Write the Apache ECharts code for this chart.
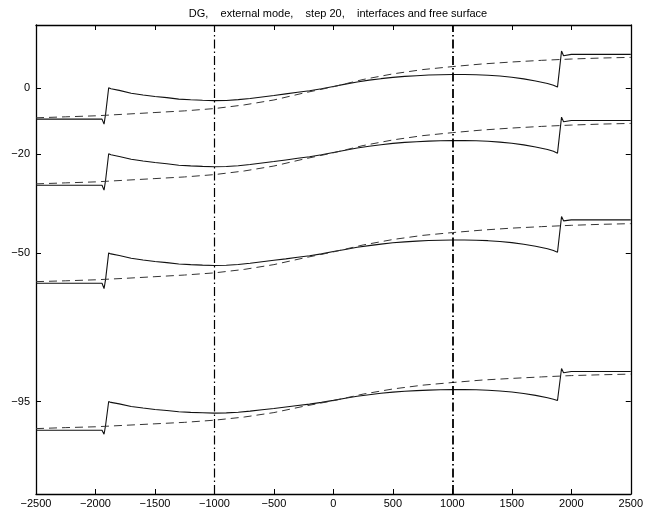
<!DOCTYPE html>
<html>
<head>
<meta charset="utf-8">
<script src="https://cdn.jsdelivr.net/npm/echarts@6/dist/echarts.min.js"></script>
<style>
  html, body { margin: 0; padding: 0; background: #fff; }
  #chart { width: 646px; height: 516px; }
</style>
</head>
<body>
<div id="chart"></div>
<script>
// x 网格（实线）
var xsSolid = [-2500, -2000, -1945, -1928, -1915, -1889, -1880, -1870, -1800, -1700,
  -1600, -1500, -1400, -1300, -1200, -1100, -1000, -900, -800, -700,
  -600, -500, -400, -300, -200, -100, 0, 100, 200, 300,
  400, 500, 600, 700, 800, 900, 1000, 1100, 1200, 1300,
  1400, 1500, 1600, 1700, 1800, 1850, 1884, 1918, 1935, 1950,
  2000, 2500];

// 自由面和各界面（实线）
var surf0 = [-9.5, -9.5, -9.5, -11.0, -8.0, 0, -0.4, -0.3, -0.8, -1.65,
  -2.2, -2.65, -3.0, -3.45, -3.65, -3.8, -3.9, -3.85, -3.6, -3.25,
  -2.8, -2.35, -1.85, -1.35, -0.9, -0.3, 0.4, 1.1, 1.75, 2.3,
  2.75, 3.15, 3.45, 3.65, 3.85, 3.95, 4.0, 4.0, 3.95, 3.8,
  3.55, 3.2, 2.7, 2.05, 1.3, 0.75, 0.2, 11.1, 9.7, 10.1,
  10.1, 10.1];
var iface20 = [-29.5, -29.5, -29.5, -31.0, -28.0, -20.0, -20.4, -20.3, -20.8, -21.65,
  -22.2, -22.65, -23.0, -23.45, -23.65, -23.8, -23.9, -23.85, -23.6, -23.25,
  -22.8, -22.35, -21.85, -21.35, -20.9, -20.3, -19.6, -18.9, -18.25, -17.7,
  -17.25, -16.85, -16.55, -16.35, -16.15, -16.05, -16.0, -16.0, -16.05, -16.2,
  -16.45, -16.8, -17.3, -17.95, -18.7, -19.25, -19.8, -8.9, -10.3, -9.9,
  -9.9, -9.9];
var iface50 = [-59.2, -59.2, -59.2, -60.8, -58.0, -50.0, -50.4, -50.3, -50.8, -51.6,
  -52.15, -52.6, -52.95, -53.35, -53.55, -53.7, -53.8, -53.75, -53.5, -53.15,
  -52.7, -52.25, -51.8, -51.3, -50.85, -50.3, -49.6, -48.95, -48.3, -47.8,
  -47.35, -46.95, -46.65, -46.45, -46.25, -46.15, -46.1, -46.1, -46.15, -46.3,
  -46.55, -46.9, -47.4, -48.0, -48.75, -49.3, -49.8, -39.0, -40.3, -40.0,
  -40.0, -40.0];
var iface95 = [-103.7, -103.7, -103.7, -104.9, -102.2, -95.0, -95.36, -95.27, -95.72, -96.5,
  -96.98, -97.4, -97.7, -98.1, -98.3, -98.4, -98.5, -98.45, -98.25, -97.9,
  -97.5, -97.1, -96.65, -96.2, -95.8, -95.25, -94.65, -94.0, -93.4, -92.95,
  -92.5, -92.15, -91.9, -91.7, -91.55, -91.45, -91.4, -91.4, -91.45, -91.6,
  -91.8, -92.1, -92.55, -93.15, -93.85, -94.3, -94.7, -85.0, -86.3, -85.9,
  -85.9, -85.9];

// 虚线
var xsDash = [-2500, -2250, -2000, -1750, -1500, -1250, -1000, -750, -500, -250,
  0, 250, 500, 750, 1000, 1250, 1500, 1750, 2000, 2250, 2500];
var dash0 = [-9.1, -8.8, -8.5, -8.0, -7.5, -7.0, -6.3, -5.2, -3.7, -1.6,
  0.3, 2.5, 4.2, 5.5, 6.4, 7.2, 7.8, 8.3, 8.7, 9.0, 9.2];
var dash20 = [-29.1, -28.8, -28.5, -28.0, -27.5, -27.0, -26.3, -25.2, -23.7, -21.6,
  -19.7, -17.5, -15.8, -14.5, -13.6, -12.8, -12.2, -11.7, -11.3, -11.0, -10.8];
var dash50 = [-58.7, -58.45, -58.15, -57.7, -57.2, -56.7, -56.05, -55.0, -53.55, -51.55,
  -49.7, -47.6, -45.95, -44.7, -43.85, -43.1, -42.5, -42.05, -41.65, -41.35, -41.15];
var dash95 = [-103.2, -102.9, -102.65, -102.2, -101.75, -101.3, -100.65, -99.7, -98.35, -96.45,
  -94.75, -92.75, -91.2, -90.05, -89.25, -88.5, -88.0, -87.55, -87.15, -86.9, -86.7];

var yTicks = [0, -20, -50, -95];
var vLines = [-1000, 1000];

function pairs(xs, ys) {
  return xs.map(function (x, i) { return [x, ys[i]]; });
}
function minus(v) {
  return String(v).replace('-', '\u2212');
}

var chart = echarts.init(document.getElementById('chart'));
var font = 'Liberation Sans, Arial, sans-serif';
var axisLine = { show: true, onZero: false, lineStyle: { color: '#000', width: 1.3 } };
var tick = { inside: true, length: 5, lineStyle: { color: '#000' } };

var series = [];
[surf0, iface20, iface50, iface95].forEach(function (ys) {
  series.push({
    type: 'line', data: pairs(xsSolid, ys), showSymbol: false,
    lineStyle: { color: '#111', width: 1.1 }
  });
});
[dash0, dash20, dash50, dash95].forEach(function (ys) {
  series.push({
    type: 'line', data: pairs(xsDash, ys), showSymbol: false,
    lineStyle: { color: '#333', width: 1, type: [8, 5] }
  });
});
// 竖直点划线
series.push({
  type: 'line', data: [], silent: true,
  markLine: {
    symbol: 'none', silent: true, label: { show: false },
    data: vLines.map(function (v, i) {
      return { xAxis: v, lineStyle: { color: '#000', width: i ? 1.8 : 1.2, type: [9, 3, 1.5, 3] } };
    })
  }
});

var option = {
  animation: false,
  title: {
    text: 'DG,    external mode,    step 20,    interfaces and free surface',
    left: 333, top: 3, textAlign: 'center',
    textStyle: { fontFamily: font, fontSize: 11, fontWeight: 'normal', color: '#000' }
  },
  grid: { left: 36, right: 15, top: 25, bottom: 22 },
  xAxis: [{
    type: 'value', min: -2500, max: 2500, interval: 500, position: 'bottom',
    axisLine: axisLine, axisTick: tick,
    axisLabel: { color: '#000', fontFamily: font, fontSize: 11, margin: 4, formatter: minus },
    splitLine: { show: false }
  }, {
    type: 'value', min: -2500, max: 2500, interval: 500, position: 'top',
    axisLine: axisLine, axisTick: tick,
    axisLabel: { show: false },
    splitLine: { show: false }
  }],
  yAxis: [{
    type: 'value', min: -123, max: 19, position: 'left',
    axisLine: axisLine,
    axisTick: { inside: true, length: 5, customValues: yTicks, lineStyle: { color: '#000' } },
    axisLabel: { color: '#000', fontFamily: font, fontSize: 11, margin: 6, customValues: yTicks, formatter: minus },
    splitLine: { show: false }
  }, {
    type: 'value', min: -123, max: 19, position: 'right',
    axisLine: axisLine,
    axisTick: { inside: true, length: 5, customValues: yTicks, lineStyle: { color: '#000' } },
    axisLabel: { show: false },
    splitLine: { show: false }
  }],
  series: series
};

chart.setOption(option);
</script>
</body>
</html>
